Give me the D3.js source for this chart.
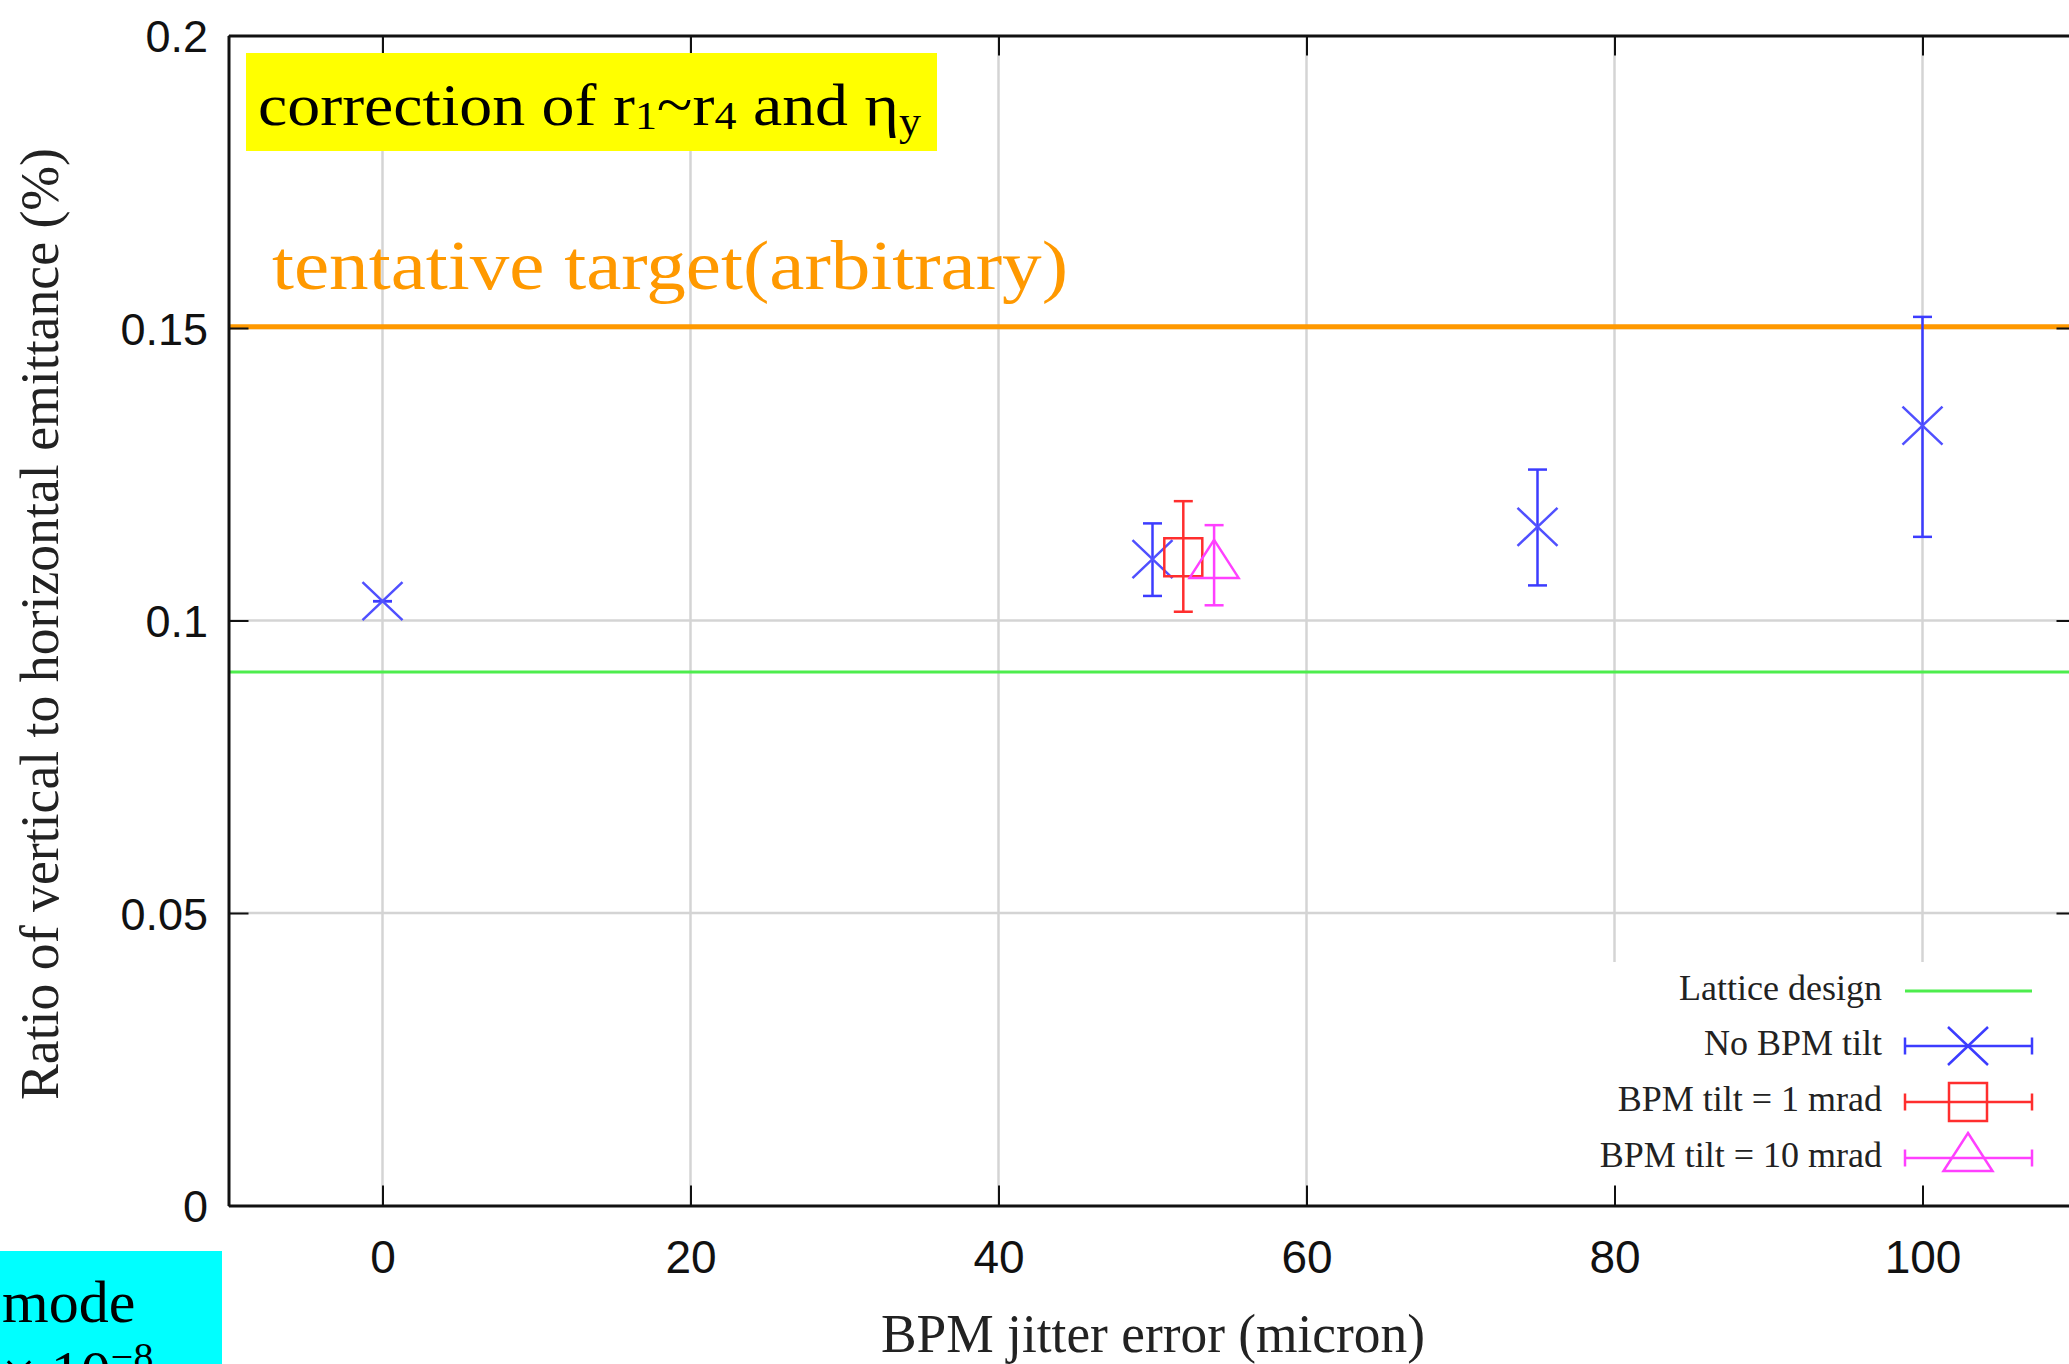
<!DOCTYPE html>
<html>
<head>
<meta charset="utf-8">
<script src="https://cdn.jsdelivr.net/npm/d3@7"></script>
<style>
  html, body { margin: 0; padding: 0; background: #fff; overflow: hidden; }
  svg { display: block; }
</style>
</head>
<body>
<svg id="chart" width="2069" height="1364"></svg>
<script>
// ---------- data ----------
const xTicks = [0, 20, 40, 60, 80, 100];
const yTicks = [0, 0.05, 0.1, 0.15, 0.2];
const xDomain = [-10, 110];
const yDomain = [0, 0.2];

const latticeDesign = 0.0912;
const targetLevel = 0.1502;

const noTiltX  = [0, 50, 75, 100];
const noTiltY  = [0.1033, 0.1105, 0.1160, 0.1333];
const noTiltLo = [0.1033, 0.1042, 0.1060, 0.1143];
const noTiltHi = [0.1033, 0.1166, 0.1258, 0.1519];

const tilt1X  = [52];
const tilt1Y  = [0.1108];
const tilt1Lo = [0.1015];
const tilt1Hi = [0.1204];

const tilt10X  = [54];
const tilt10Y  = [0.1095];
const tilt10Lo = [0.1026];
const tilt10Hi = [0.1163];

const legendLabels = ["Lattice design", "No BPM tilt", "BPM tilt = 1 mrad", "BPM tilt = 10 mrad"];
const xTitle = "BPM jitter error (micron)";
const yTitle = "Ratio of vertical to horizontal emittance (%)";

// ---------- setup ----------
const svg = d3.select("#chart");
const L = 228.5, R = 2076.5, T = 35.5, B = 1205.5;
const x = d3.scaleLinear().domain(xDomain).range([L, R]);
const y = d3.scaleLinear().domain(yDomain).range([B, T]);

const BLUE = "#3c3cff", RED = "#ff2e2e", MAG = "#ff40ff", GREEN = "#4ded4d", ORANGE = "#ff9900";
const sans = "'Liberation Sans', Arial, Helvetica, sans-serif";
const serif = "'Liberation Serif', 'Times New Roman', serif";

// ---------- grid ----------
const grid = svg.append("g").attr("stroke", "#d4d4d4").attr("stroke-width", 2.5);
grid.selectAll("line.v").data(xTicks).join("line")
  .attr("x1", d => x(d)).attr("x2", d => x(d)).attr("y1", T).attr("y2", B);
grid.selectAll("line.h").data(yTicks.filter(d => d > 0 && d < 0.2)).join("line")
  .attr("x1", L).attr("x2", R).attr("y1", d => y(d)).attr("y2", d => y(d));

// legend background (covers grid)
svg.append("rect").attr("x", 1582).attr("y", 962).attr("width", 500).attr("height", B - 962)
  .attr("fill", "#fff");

// ---------- lattice design line ----------
svg.append("line").attr("x1", L).attr("x2", R)
  .attr("y1", y(latticeDesign)).attr("y2", y(latticeDesign))
  .attr("stroke", GREEN).attr("stroke-width", 3);

// ---------- target line ----------
svg.append("line").attr("x1", L).attr("x2", R)
  .attr("y1", y(targetLevel)).attr("y2", y(targetLevel))
  .attr("stroke", ORANGE).attr("stroke-width", 5);

// ---------- axes ----------
const axStyle = g => {
  g.select(".domain").attr("stroke", "#111").attr("stroke-width", 3);
  g.selectAll(".tick line").attr("stroke", "#111").attr("stroke-width", 2);
};
svg.append("g").attr("transform", `translate(0,${B})`)
  .call(d3.axisBottom(x).tickValues(xTicks).tickSizeInner(-20).tickSizeOuter(0).tickPadding(34.5))
  .call(axStyle)
  .call(g => g.selectAll("text").attr("font-family", sans).attr("font-size", 46).attr("fill", "#111"));
svg.append("g").attr("transform", `translate(0,${T})`)
  .call(d3.axisTop(x).tickValues(xTicks).tickSizeInner(-20).tickSizeOuter(0).tickFormat(""))
  .call(axStyle);
svg.append("g").attr("transform", `translate(${L},0)`)
  .call(d3.axisLeft(y).tickValues(yTicks).tickSizeInner(-20).tickSizeOuter(0).tickPadding(20.5)
        .tickFormat(d => String(+d.toFixed(2))))
  .call(axStyle)
  .call(g => g.selectAll("text").attr("font-family", sans).attr("font-size", 45).attr("fill", "#111")
        .attr("dy", "0.36em"));
svg.append("g").attr("transform", `translate(${R},0)`)
  .call(d3.axisRight(y).tickValues(yTicks).tickSizeInner(-20).tickSizeOuter(0).tickFormat(""))
  .call(axStyle);

// ---------- markers ----------
const CAP = 9.5;
function errorBars(xs, ys, lo, hi, color) {
  const g = svg.append("g").attr("stroke", color).attr("stroke-width", 2.5).attr("fill", "none");
  xs.forEach((xv, i) => {
    const cx = x(xv);
    g.append("line").attr("x1", cx).attr("x2", cx).attr("y1", y(lo[i])).attr("y2", y(hi[i]));
    g.append("line").attr("x1", cx - CAP).attr("x2", cx + CAP).attr("y1", y(lo[i])).attr("y2", y(lo[i]));
    g.append("line").attr("x1", cx - CAP).attr("x2", cx + CAP).attr("y1", y(hi[i])).attr("y2", y(hi[i]));
  });
  return g;
}
function crossPath(cx, cy) { return `M${cx-20},${cy-19}L${cx+20},${cy+19}M${cx-20},${cy+19}L${cx+20},${cy-19}`; }
function squarePath(cx, cy) { return `M${cx-19},${cy-19}h38v38h-38Z`; }
function triPath(cx, cy) { return `M${cx},${cy-25}L${cx+24.5},${cy+13}L${cx-24.5},${cy+13}Z`; }

errorBars(noTiltX, noTiltY, noTiltLo, noTiltHi, BLUE);
svg.append("g").selectAll("path").data(noTiltX).join("path")
  .attr("d", (d, i) => crossPath(x(d), y(noTiltY[i])))
  .attr("stroke", "#5050ff").attr("stroke-width", 2.5).attr("fill", "none");

errorBars(tilt1X, tilt1Y, tilt1Lo, tilt1Hi, RED);
svg.append("g").selectAll("path").data(tilt1X).join("path")
  .attr("d", (d, i) => squarePath(x(d), y(tilt1Y[i])))
  .attr("stroke", RED).attr("stroke-width", 2.5).attr("fill", "none");

errorBars(tilt10X, tilt10Y, tilt10Lo, tilt10Hi, MAG);
svg.append("g").selectAll("path").data(tilt10X).join("path")
  .attr("d", (d, i) => triPath(x(d), y(tilt10Y[i])))
  .attr("stroke", MAG).attr("stroke-width", 2.5).attr("fill", "none");

// ---------- legend ----------
const legY = [991, 1046, 1102, 1158];
const lg = svg.append("g");
legendLabels.forEach((lab, i) => {
  lg.append("text").attr("x", 1882).attr("y", legY[i] + 9).attr("text-anchor", "end")
    .attr("font-family", serif).attr("font-size", 36).attr("fill", "#222").text(lab);
});
const sx1 = 1905, sx2 = 2032, scx = 1968;
lg.append("line").attr("x1", sx1).attr("x2", sx2).attr("y1", legY[0]).attr("y2", legY[0])
  .attr("stroke", GREEN).attr("stroke-width", 3);
[[BLUE, crossPath], [RED, squarePath], [MAG, triPath]].forEach(([c, fn], k) => {
  const ly = legY[k + 1];
  const g = lg.append("g").attr("stroke", c).attr("stroke-width", 2.5).attr("fill", "none");
  g.append("line").attr("x1", sx1).attr("x2", sx2).attr("y1", ly).attr("y2", ly);
  g.append("line").attr("x1", sx1).attr("x2", sx1).attr("y1", ly - 8.5).attr("y2", ly + 8.5);
  g.append("line").attr("x1", sx2).attr("x2", sx2).attr("y1", ly - 8.5).attr("y2", ly + 8.5);
  g.append("path").attr("d", fn(scx, ly));
});

// ---------- axis titles ----------
const xt = svg.append("text").attr("x", 1153).attr("y", 1352).attr("text-anchor", "middle")
  .attr("font-family", serif).attr("font-size", 54).attr("fill", "#222").text(xTitle);
xt.attr("textLength", 544).attr("lengthAdjust", "spacingAndGlyphs");

const yt = svg.append("text").attr("transform", "translate(58,624) rotate(-90)").attr("text-anchor", "middle")
  .attr("font-family", serif).attr("font-size", 54).attr("fill", "#222").text(yTitle);
yt.attr("textLength", 952).attr("lengthAdjust", "spacingAndGlyphs");

// ---------- annotations ----------
svg.append("rect").attr("x", 246).attr("y", 53).attr("width", 691).attr("height", 98).attr("fill", "#ffff00");
const corr = svg.append("text").attr("x", 258).attr("y", 125)
  .attr("font-family", serif).attr("font-size", 60).attr("fill", "#000");
corr.append("tspan").text("correction of r");
corr.append("tspan").attr("font-size", 40).attr("dy", 4).text("1");
corr.append("tspan").attr("dy", -4).text("~r");
corr.append("tspan").attr("font-size", 40).attr("dy", 4).text("4");
corr.append("tspan").attr("dy", -4).text(" and η");
corr.append("tspan").attr("font-size", 40).attr("dy", 10).text("y");
{
  const w = corr.node().getBBox().width;
  const s = 663 / w;
  corr.attr("transform", `translate(258,0) scale(${s},1) translate(-258,0)`);
}

const tgt = svg.append("text").attr("x", 272).attr("y", 289)
  .attr("font-family", serif).attr("font-size", 70).attr("fill", ORANGE)
  .text("tentative target(arbitrary)");
tgt.attr("textLength", 796).attr("lengthAdjust", "spacingAndGlyphs");

// cyan box at bottom-left
svg.append("rect").attr("x", -10).attr("y", 1251).attr("width", 232).attr("height", 140).attr("fill", "#00ffff");
svg.append("text").attr("x", 2).attr("y", 1322)
  .attr("font-family", serif).attr("font-size", 60).attr("fill", "#000").text("mode");
const ex = svg.append("text").attr("x", 2).attr("y", 1392)
  .attr("font-family", serif).attr("font-size", 60).attr("fill", "#000");
ex.append("tspan").text("× 10");
ex.append("tspan").attr("font-size", 40).attr("dy", -22).text("−8");
</script>
</body>
</html>
